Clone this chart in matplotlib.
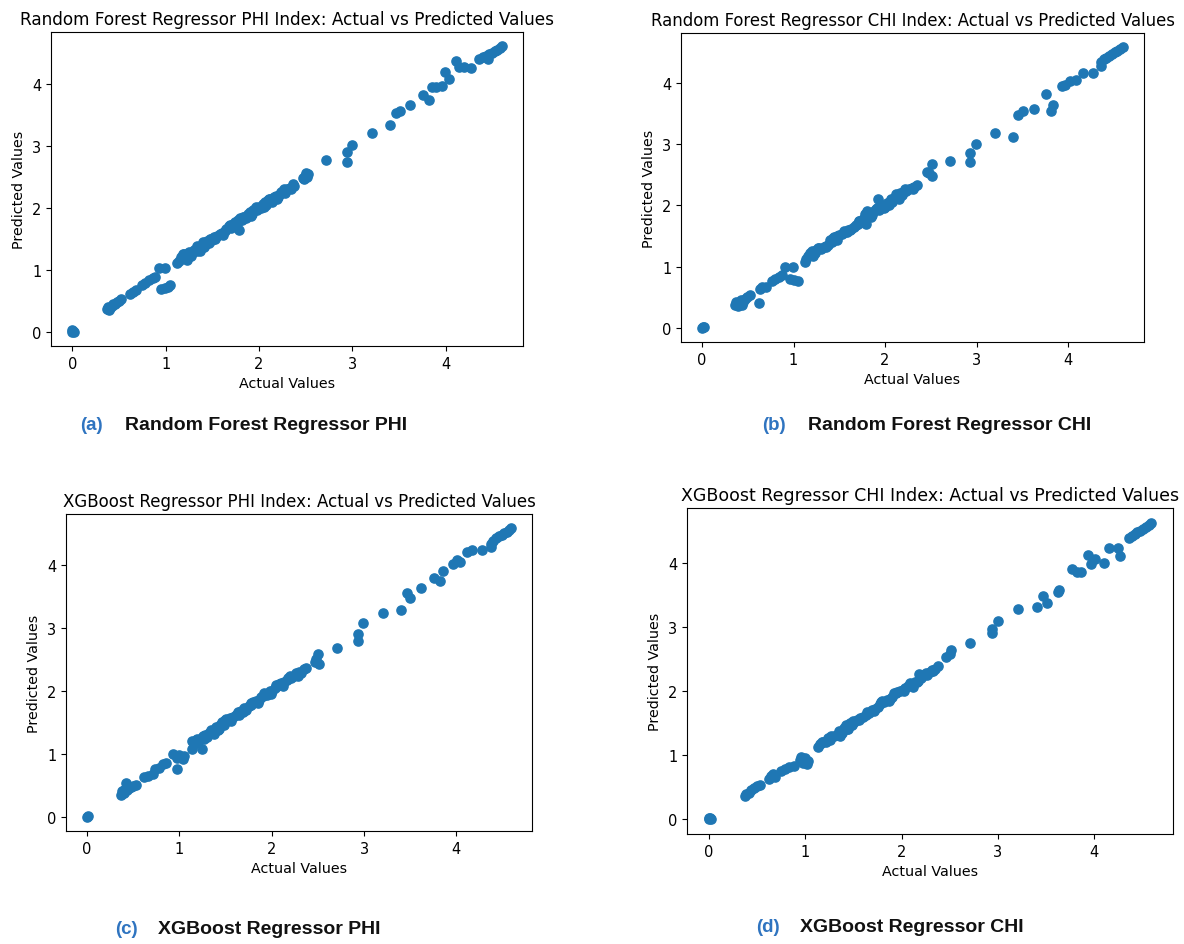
import matplotlib
matplotlib.use("Agg")
import matplotlib.pyplot as plt

# ---------------- data ----------------
rf_phi_actual = [0.00, 0.01, 0.02, 0.00,
                 0.37, 0.38, 0.40, 0.42, 0.44, 0.46, 0.48, 0.50, 0.52, 0.39,
                 0.62, 0.65, 0.68, 0.75, 0.78, 0.82, 0.86, 0.88,
                 0.93, 0.99, 0.95, 0.99, 1.02, 1.05,
                 1.12, 1.14, 1.16, 1.18, 1.20, 1.22, 1.23, 1.25, 1.28, 1.30, 1.33, 1.35, 1.37, 1.38,
                 1.40, 1.42, 1.44, 1.46, 1.48, 1.50, 1.52, 1.55, 1.58, 1.60, 1.63, 1.65, 1.68, 1.70,
                 1.72, 1.74, 1.76, 1.78, 1.79, 1.80, 1.82, 1.84, 1.86, 1.88, 1.90, 1.92, 1.94, 1.96,
                 1.98, 2.00, 2.02, 2.04, 2.06, 2.08, 2.10, 2.12, 2.14, 2.16, 2.18, 2.20, 2.22, 2.24,
                 2.26, 2.28, 2.30, 2.33, 2.36, 2.38,
                 1.19, 1.27, 1.34, 1.41, 1.47, 1.53, 1.61, 1.69, 1.75, 1.83, 1.91, 1.97, 2.05, 2.11,
                 2.19, 2.27, 2.34,
                 2.47, 2.49, 2.51, 2.53, 2.50, 2.48,
                 2.72, 2.94, 2.94, 3.00, 3.21, 3.40, 3.47, 3.51, 3.62, 3.76, 3.82, 3.85, 3.90, 3.96,
                 3.99, 4.04, 4.11, 4.14, 4.20, 4.27, 4.36, 4.40, 4.43, 4.45, 4.47, 4.50, 4.53, 4.55,
                 4.58, 4.60]
rf_phi_pred = [0.00, 0.01, 0.00, 0.02,
               0.36, 0.40, 0.38, 0.42, 0.45, 0.44, 0.48, 0.50, 0.53, 0.35,
               0.61, 0.64, 0.67, 0.76, 0.79, 0.83, 0.86, 0.88,
               1.03, 1.03, 0.69, 0.71, 0.73, 0.75,
               1.11, 1.15, 1.20, 1.22, 1.26, 1.20, 1.16, 1.28, 1.27, 1.32, 1.30, 1.34, 1.31, 1.38,
               1.45, 1.40, 1.47, 1.43, 1.50, 1.48, 1.53, 1.55, 1.58, 1.60, 1.62, 1.66, 1.70, 1.68,
               1.74, 1.78, 1.74, 1.80, 1.65, 1.84, 1.80, 1.86, 1.84, 1.90, 1.94, 1.90, 1.97, 1.98,
               1.96, 2.02, 2.00, 2.06, 2.10, 2.05, 2.12, 2.15, 2.10, 2.17, 2.20, 2.18, 2.22, 2.25,
               2.27, 2.24, 2.30, 2.32, 2.38, 2.36,
               1.25, 1.23, 1.38, 1.37, 1.50, 1.50, 1.57, 1.72, 1.72, 1.86, 1.87, 2.01, 2.01, 2.15,
               2.15, 2.30, 2.30,
               2.48, 2.52, 2.50, 2.55, 2.56, 2.46,
               2.77, 2.74, 2.90, 3.02, 3.21, 3.34, 3.53, 3.57, 3.66, 3.82, 3.74, 3.96, 3.95, 3.97,
               4.20, 4.08, 4.37, 4.27, 4.27, 4.26, 4.40, 4.43, 4.45, 4.40, 4.48, 4.50, 4.53, 4.55,
               4.58, 4.61]

rf_chi_actual = [0.00, 0.01, 0.02,
                 0.36, 0.37, 0.39, 0.41, 0.43, 0.45, 0.47, 0.49, 0.52, 0.44,
                 0.62, 0.63, 0.66, 0.70, 0.76, 0.80, 0.84, 0.87,
                 0.91, 0.99, 0.96, 1.00, 1.05,
                 1.12, 1.14, 1.16, 1.18, 1.20, 1.23, 1.25, 1.28, 1.30, 1.33, 1.35, 1.38, 1.40, 1.42,
                 1.44, 1.46, 1.48, 1.50, 1.53, 1.56, 1.58, 1.60, 1.63, 1.66, 1.68, 1.70, 1.72, 1.74,
                 1.76, 1.78, 1.79, 1.80, 1.82, 1.84, 1.86, 1.88, 1.90, 1.92, 1.93, 1.95, 1.97, 2.00,
                 2.02, 2.04, 2.06, 2.08, 2.10, 2.12, 2.14, 2.16, 2.18, 2.20, 2.23, 2.26, 2.29, 2.32,
                 2.35,
                 1.21, 1.27, 1.36, 1.43, 1.47, 1.55, 1.62, 1.71, 1.77, 1.85, 1.91, 1.99, 2.07, 2.15,
                 2.22, 2.30,
                 2.46, 2.51, 2.51, 2.48,
                 2.71, 2.93, 2.93, 2.99, 3.20, 3.40, 3.45, 3.51, 3.63, 3.76, 3.81, 3.84, 3.93, 3.97,
                 4.02, 4.09, 4.16, 4.27, 4.36, 4.36, 4.39, 4.42, 4.45, 4.48, 4.51, 4.54, 4.57, 4.60]
rf_chi_pred = [0.00, 0.02, 0.01,
               0.38, 0.42, 0.36, 0.40, 0.45, 0.43, 0.48, 0.51, 0.53, 0.38,
               0.40, 0.64, 0.66, 0.67, 0.77, 0.80, 0.83, 0.86,
               1.00, 1.00, 0.80, 0.79, 0.76,
               1.07, 1.13, 1.18, 1.22, 1.25, 1.22, 1.27, 1.30, 1.28, 1.32, 1.34, 1.36, 1.44, 1.40,
               1.48, 1.45, 1.50, 1.52, 1.54, 1.56, 1.57, 1.60, 1.62, 1.65, 1.68, 1.70, 1.74, 1.72,
               1.77, 1.86, 1.70, 1.90, 1.82, 1.87, 1.84, 1.90, 1.94, 2.10, 1.92, 1.98, 2.00, 1.98,
               2.03, 2.00, 2.08, 2.06, 2.12, 2.18, 2.15, 2.20, 2.17, 2.22, 2.24, 2.27, 2.28, 2.30,
               2.33,
               1.18, 1.31, 1.32, 1.47, 1.44, 1.58, 1.59, 1.75, 1.74, 1.81, 1.95, 1.96, 2.10, 2.11,
               2.26, 2.26,
               2.55, 2.67, 2.48, 2.52,
               2.73, 2.70, 2.85, 3.00, 3.18, 3.11, 3.47, 3.54, 3.57, 3.81, 3.53, 3.64, 3.95, 3.96,
               4.02, 4.05, 4.16, 4.16, 4.27, 4.33, 4.38, 4.40, 4.44, 4.46, 4.50, 4.52, 4.55, 4.58]

xgb_phi_actual = [0.00, 0.01,
                  0.37, 0.38, 0.40, 0.42, 0.43, 0.45, 0.47, 0.50, 0.53, 0.40,
                  0.62, 0.66, 0.71, 0.74, 0.78, 0.82, 0.85,
                  0.93, 0.97, 0.97, 1.00, 1.04, 1.05,
                  1.14, 1.14, 1.16, 1.18, 1.20, 1.22, 1.24, 1.26, 1.28, 1.30, 1.32, 1.35, 1.37, 1.40,
                  1.42, 1.44, 1.46, 1.48, 1.50, 1.52, 1.55, 1.58, 1.61, 1.64, 1.67, 1.70, 1.72, 1.75,
                  1.78, 1.80, 1.83, 1.86, 1.88, 1.90, 1.93, 1.95, 1.98, 2.00, 2.03, 2.06, 2.08, 2.10,
                  2.13, 2.16, 2.18, 2.21, 2.24, 2.26, 2.29, 2.32, 2.35, 2.37,
                  1.19, 1.27, 1.34, 1.43, 1.49, 1.56, 1.63, 1.69, 1.77, 1.85, 1.92, 1.99, 2.05, 2.12,
                  2.20, 2.28,
                  2.48, 2.51, 2.50, 2.47,
                  2.71, 2.93, 2.93, 2.99, 3.21, 3.40, 3.46, 3.50, 3.62, 3.76, 3.82, 3.85, 3.96, 4.01,
                  4.04, 4.12, 4.17, 4.28, 4.37, 4.37, 4.40, 4.43, 4.46, 4.49, 4.52, 4.55, 4.57, 4.59]
xgb_phi_pred = [0.00, 0.01,
                0.35, 0.40, 0.38, 0.53, 0.43, 0.45, 0.47, 0.48, 0.51, 0.42,
                0.63, 0.65, 0.68, 0.75, 0.78, 0.84, 0.85,
                1.00, 0.93, 0.76, 0.98, 0.91, 0.97,
                1.07, 1.20, 1.15, 1.22, 1.18, 1.24, 1.07, 1.28, 1.30, 1.26, 1.33, 1.36, 1.32, 1.42,
                1.38, 1.46, 1.50, 1.45, 1.55, 1.52, 1.56, 1.58, 1.61, 1.62, 1.68, 1.72, 1.70, 1.76,
                1.78, 1.82, 1.84, 1.86, 1.90, 1.92, 1.95, 1.94, 1.99, 2.00, 2.05, 2.08, 2.10, 2.12,
                2.14, 2.17, 2.20, 2.20, 2.23, 2.28, 2.30, 2.29, 2.34, 2.36,
                1.24, 1.23, 1.38, 1.39, 1.53, 1.52, 1.67, 1.66, 1.80, 1.81, 1.96, 1.95, 2.09, 2.08,
                2.24, 2.24,
                2.50, 2.42, 2.58, 2.46,
                2.68, 2.79, 2.90, 3.07, 3.23, 3.29, 3.55, 3.47, 3.63, 3.79, 3.74, 3.91, 4.02, 4.07,
                4.04, 4.21, 4.23, 4.24, 4.28, 4.34, 4.38, 4.42, 4.46, 4.48, 4.51, 4.53, 4.56, 4.58]

xgb_chi_actual = [0.00, 0.01, 0.02, 0.00,
                  0.37, 0.38, 0.41, 0.44, 0.47, 0.50, 0.53,
                  0.62, 0.64, 0.66, 0.68, 0.75, 0.79, 0.83, 0.88,
                  0.94, 0.96, 0.98, 1.00, 1.02, 1.03,
                  1.13, 1.15, 1.18, 1.21, 1.24, 1.27, 1.30, 1.33, 1.36, 1.38, 1.40, 1.42, 1.44, 1.46,
                  1.48, 1.51, 1.54, 1.57, 1.60, 1.63, 1.66, 1.69, 1.72, 1.75, 1.78, 1.80, 1.82, 1.85,
                  1.88, 1.90, 1.92, 1.95, 1.98, 2.01, 2.04, 2.07, 2.10, 2.12, 2.14, 2.17, 2.18, 2.20,
                  2.23, 2.26, 2.29, 2.32, 2.35, 2.38,
                  1.17, 1.26, 1.35, 1.43, 1.50, 1.56, 1.64, 1.71, 1.79, 1.87, 1.94, 2.02, 2.09, 2.16,
                  2.25, 2.33,
                  2.46, 2.51, 2.50,
                  2.71, 2.94, 2.94, 3.00, 3.21, 3.41, 3.47, 3.51, 3.62, 3.63, 3.77, 3.82, 3.86, 3.94,
                  3.97, 4.01, 4.10, 4.15, 4.25, 4.27, 4.36, 4.39, 4.42, 4.45, 4.48, 4.51, 4.54, 4.57,
                  4.59]
xgb_chi_pred = [0.00, 0.02, 0.00, 0.02,
                0.36, 0.40, 0.41, 0.45, 0.48, 0.51, 0.54,
                0.62, 0.67, 0.70, 0.66, 0.75, 0.78, 0.81, 0.83,
                0.92, 0.97, 0.88, 0.95, 0.86, 0.90,
                1.12, 1.17, 1.21, 1.20, 1.27, 1.30, 1.29, 1.31, 1.30, 1.35, 1.42, 1.47, 1.40, 1.50,
                1.47, 1.52, 1.55, 1.57, 1.60, 1.62, 1.66, 1.70, 1.71, 1.75, 1.80, 1.84, 1.82, 1.86,
                1.87, 1.90, 1.96, 1.98, 2.00, 2.02, 2.04, 2.07, 2.10, 2.06, 2.14, 2.16, 2.26, 2.20,
                2.24, 2.25, 2.30, 2.32, 2.34, 2.39,
                1.20, 1.24, 1.38, 1.41, 1.53, 1.54, 1.67, 1.69, 1.82, 1.85, 1.97, 2.00, 2.12, 2.14,
                2.28, 2.31,
                2.53, 2.63, 2.58,
                2.75, 2.90, 2.96, 3.09, 3.28, 3.30, 3.48, 3.37, 3.54, 3.58, 3.90, 3.86, 3.85, 4.12,
                3.98, 4.06, 4.00, 4.22, 4.22, 4.10, 4.38, 4.42, 4.45, 4.48, 4.50, 4.53, 4.56, 4.59,
                4.62]

titles = [
    "Random Forest Regressor PHI Index: Actual vs Predicted Values",
    "Random Forest Regressor CHI Index: Actual vs Predicted Values",
    "XGBoost Regressor PHI Index: Actual vs Predicted Values",
    "XGBoost Regressor CHI Index: Actual vs Predicted Values",
]
caption_tags = ["(a)", "(b)", "(c)", "(d)"]
caption_texts = [
    "Random Forest Regressor PHI",
    "Random Forest Regressor CHI",
    "XGBoost Regressor PHI",
    "XGBoost Regressor CHI",
]

# ---------------- layout ----------------
W, H = 1184, 945
fig = plt.figure(figsize=(W / 100, H / 100), dpi=100)
fig.patch.set_facecolor("white")

# axes boxes in pixels: left, right, top, bottom
boxes = [(51, 523, 33, 347), (681, 1144, 34, 343),
         (66, 532, 515, 832), (687, 1173, 509, 835)]
title_sizes = [12.2, 11.9, 12.0, 12.5]
# caption positions in pixels: tag x, text x, y
caption_pos = [(80, 125, 425), (762, 808, 425), (115, 158, 930), (756, 800, 928)]

series = [(rf_phi_actual, rf_phi_pred), (rf_chi_actual, rf_chi_pred),
          (xgb_phi_actual, xgb_phi_pred), (xgb_chi_actual, xgb_chi_pred)]

blue_tag = "#2F74C0"

for i, ((xa, ya), (l, r, t, b)) in enumerate(zip(series, boxes)):
    ax = fig.add_axes([l / W, 1 - b / H, (r - l) / W, (b - t) / H])
    ax.scatter(xa, ya, s=44, color="#1f77b4")
    ax.set_xticks([0, 1, 2, 3, 4])
    ax.set_yticks([0, 1, 2, 3, 4])
    ax.tick_params(labelsize=10.5)
    ax.set_title(titles[i], fontsize=title_sizes[i])
    ax.set_xlabel("Actual Values", fontsize=10.3)
    ax.set_ylabel("Predicted Values", fontsize=10.3)

    tx, mx, cy = caption_pos[i]
    fig.text(tx / W, 1 - cy / H, caption_tags[i], color=blue_tag,
             fontsize=13.5, fontweight="bold", family="Liberation Sans",
             ha="left", va="center")
    fig.text(mx / W, 1 - cy / H, caption_texts[i], color="#111111",
             fontsize=14, fontweight="bold", family="Liberation Sans",
             ha="left", va="center")

fig.savefig("out.png", dpi=100, facecolor="white")
